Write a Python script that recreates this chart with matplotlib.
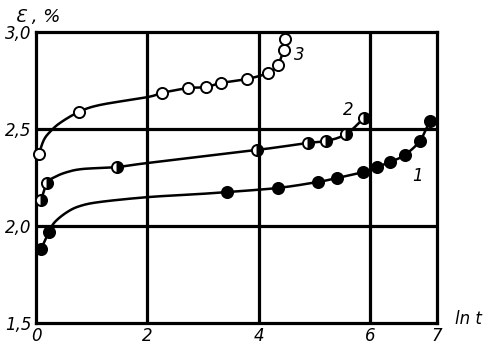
import numpy as np
import matplotlib
matplotlib.use("Agg")
import matplotlib.pyplot as plt

# ---- data ----
s1_x = [0.09, 0.23, 3.43, 4.34, 5.06, 5.40, 5.87, 6.12, 6.36, 6.62, 6.89, 7.07]
s1_y = [1.88, 1.97, 2.175, 2.196, 2.227, 2.247, 2.278, 2.304, 2.330, 2.366, 2.438, 2.541]

s2_x = [0.09, 0.20, 1.45, 3.97, 4.88, 5.21, 5.57, 5.89]
s2_y = [2.134, 2.222, 2.304, 2.392, 2.428, 2.438, 2.474, 2.557]

s3_x = [0.05, 0.77, 2.26, 2.73, 3.05, 3.32, 3.79, 4.17, 4.34, 4.45, 4.47]
s3_y = [2.371, 2.588, 2.686, 2.711, 2.716, 2.737, 2.758, 2.789, 2.830, 2.907, 2.964]

# traced fitted curves
c1_x = [0.09, 0.23, 0.34, 0.56, 0.79, 1.15, 2.01, 2.94, 3.43, 4.34, 5.06, 5.40, 5.87, 6.12, 6.36, 6.62, 6.89, 7.07]
c1_y = [1.881, 1.969, 2.021, 2.072, 2.103, 2.124, 2.149, 2.165, 2.175, 2.196, 2.227, 2.247, 2.278, 2.304, 2.330, 2.366, 2.438, 2.541]
c2_x = [0.09, 0.20, 0.34, 0.56, 0.84, 1.45, 2.01, 3.97, 4.88, 5.21, 5.57, 5.89]
c2_y = [2.134, 2.222, 2.253, 2.278, 2.294, 2.304, 2.325, 2.392, 2.428, 2.438, 2.474, 2.557]
c3_x = [0.05, 0.14, 0.25, 0.43, 0.77, 1.15, 2.01, 2.26, 2.73, 3.05, 3.32, 3.79, 4.17, 4.34, 4.45]
c3_y = [2.371, 2.443, 2.485, 2.531, 2.588, 2.624, 2.665, 2.686, 2.711, 2.716, 2.737, 2.758, 2.789, 2.830, 2.907]

y_ticks = [1.5, 2.0, 2.5, 3.0]
y_labels = ["1,5", "2,0", "2,5", "3,0"]
x_ticks = [0, 2, 4, 6, 7.2]
x_labels = ["0", "2", "4", "6", "7"]
curve_labels = ["1", "2", "3"]


def smooth(xs, ys, n=12):
    # uniform Catmull-Rom through the traced knots, in normalised space
    p = np.column_stack([np.asarray(xs) / 7.2, (np.asarray(ys) - 1.5) / 1.5 * 0.72])
    p = np.vstack([2 * p[0] - p[1], p, 2 * p[-1] - p[-2]])
    out = []
    t = np.linspace(0, 1, n, endpoint=False)[:, None]
    for i in range(1, len(p) - 2):
        p0, p1, p2, p3 = p[i - 1], p[i], p[i + 1], p[i + 2]
        seg = 0.5 * ((2 * p1) + (-p0 + p2) * t + (2 * p0 - 5 * p1 + 4 * p2 - p3) * t ** 2
                     + (-p0 + 3 * p1 - 3 * p2 + p3) * t ** 3)
        out.append(seg)
    out.append(p[-2][None, :])
    out = np.vstack(out)
    return out[:, 0] * 7.2, out[:, 1] / 0.72 * 1.5 + 1.5


fig = plt.figure(figsize=(4.86, 3.49), dpi=100)
ax = fig.add_axes([36 / 486, 26 / 349, 401 / 486, 291 / 349])
ax.set_xlim(0, 7.2)
ax.set_ylim(1.5, 3.0)

for v in [2, 4, 6]:
    ax.axvline(v, color="black", lw=2.3, zorder=1)
for v in [2.0, 2.5]:
    ax.axhline(v, color="black", lw=2.3, zorder=1)
for s in ax.spines.values():
    s.set_linewidth(2.3)

for cx, cy in [(c1_x, c1_y), (c2_x, c2_y), (c3_x, c3_y)]:
    sx, sy = smooth(cx, cy)
    ax.plot(sx, sy, color="black", lw=1.8, zorder=2, clip_on=False)
# last segment of curve 3 to the top point
ax.plot(s3_x[-2:], s3_y[-2:], color="black", lw=1.8, zorder=2, clip_on=False)

ms = 8
ax.plot(s1_x, s1_y, "o", ms=ms, mfc="black", mec="black", mew=1.4, zorder=3, clip_on=False)
ax.plot(s2_x, s2_y, "o", ms=ms, fillstyle="right", mfc="black", mfcalt="white",
        mec="black", mew=1.4, zorder=3, clip_on=False)
ax.plot(s3_x, s3_y, "o", ms=ms, mfc="white", mec="black", mew=1.4, zorder=3, clip_on=False)

fs = 12
ax.set_xticks(x_ticks)
ax.set_xticklabels(x_labels, fontsize=fs, style="italic")
ax.set_yticks(y_ticks)
ax.set_yticklabels(y_labels, fontsize=fs, style="italic")
ax.tick_params(length=0, pad=3)

ax.text(6.85, 2.26, curve_labels[0], fontsize=fs, style="italic", ha="center", va="center")
ax.text(5.60, 2.60, curve_labels[1], fontsize=fs, style="italic", ha="center", va="center")
ax.text(4.72, 2.88, curve_labels[2], fontsize=fs, style="italic", ha="center", va="center")

fig.text(468 / 486, 1 - 319 / 349, "ln t", fontsize=fs, style="italic", ha="center", va="center")
fig.text(38 / 486, 1 - 17 / 349, "Ɛ , %", fontsize=13, style="italic", ha="center", va="center")

fig.savefig("out.png", dpi=100)
